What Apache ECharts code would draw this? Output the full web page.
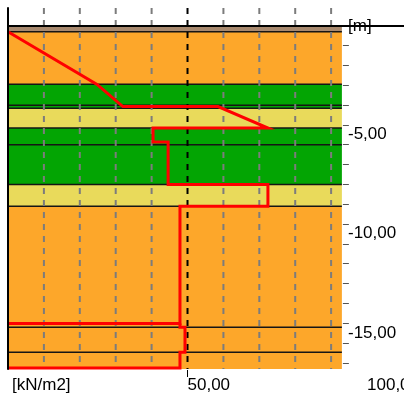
<!DOCTYPE html>
<html>
<head>
<meta charset="utf-8">
<script src="https://cdn.jsdelivr.net/npm/echarts@6/dist/echarts.min.js"></script>
<style>
  html, body { margin: 0; padding: 0; background: #ffffff; }
  #chart { width: 404px; height: 398px; }
</style>
</head>
<body>
<div id="chart"></div>
<script>
// Soil profile: top / bottom depth of each layer [m] and its soil type
const layerTop    = [0.0, -0.3, -2.95, -4.0, -4.15, -5.15, -6.0, -8.0, -9.1, -15.2, -16.45];
const layerBottom = [-0.3, -2.95, -4.0, -4.15, -5.15, -6.0, -8.0, -9.1, -15.2, -16.45, -17.3];
const layerSoil   = ['topsoil', 'sand', 'clay', 'clay', 'silt', 'clay', 'clay', 'silt', 'sand', 'sand', 'sand'];

// Earth pressure diagram outline: pressure [kN/m2] against depth [m]
const pressureUpper = [0.0, 24.8, 32.0, 58.5, 72.4, 40.4, 40.4, 44.6, 44.6, 72.4, 72.4, 47.9, 47.9, 0.0];
const depthUpper    = [-0.3, -2.95, -4.07, -4.07, -5.15, -5.15, -5.85, -5.85, -8.0, -8.0, -9.1, -9.1, -15.0, -15.0];
const pressureLower = [47.9, 47.9, 49.3, 49.3, 47.9, 47.9, 0.0];
const depthLower    = [-15.0, -15.2, -15.2, -16.45, -16.45, -17.25, -17.25];

// Axis ticks and labels
const gridPressures  = [10, 20, 30, 40, 50, 60, 70, 80, 90];
const pressureLabels = [0, 50, 100];
const pressureTicks  = [50];
const depthTicks     = [0, -1, -2, -3, -4, -5, -6, -7, -8, -9, -10, -11, -12, -13, -14, -15, -16, -17];
const depthLabels    = [0, -5, -10, -15];

// Axis extents
const DEPTH_MAX = 0.9;
const DEPTH_MIN = -17.3;
const PRESSURE_MAX = 110.3;
const PROFILE_WIDTH = 93.0;   // right edge of the soil column [kN/m2]

const SOIL_COLORS = {
  topsoil: '#a8896e',
  sand: '#fda72a',
  clay: '#03a503',
  silt: '#e9da5b'
};
const FONT = '"Liberation Sans", Arial, sans-serif';

const fmt = v => v.toFixed(2).replace('.', ',');
const crisp = y => Math.round(y - 0.5) + 0.5;

const chart = echarts.init(document.getElementById('chart'), null, { renderer: 'canvas' });

chart.setOption({
  animation: false,
  backgroundColor: '#ffffff',
  grid: { left: 8, right: 0, top: 8, bottom: 29, containLabel: false, outerBoundsMode: 'none' },
  xAxis: [
    {
      type: 'value', position: 'bottom', min: 0, max: PRESSURE_MAX,
      axisLine: { show: false },
      splitLine: { show: false },
      axisTick: { show: false },
      axisLabel: {
        show: true, customValues: pressureLabels, margin: 8, align: 'left', verticalAlign: 'top',
        color: '#000', fontFamily: FONT, fontSize: 17,
        formatter: v => v === 0 ? '{u|[kN/m2]}' : fmt(v),
        rich: { u: { padding: [0, 0, 0, 4], fontFamily: FONT, fontSize: 17, color: '#000' } }
      }
    },
    {
      type: 'value', position: 'top', min: 0, max: PRESSURE_MAX, z: 10,
      axisLine: { show: true, lineStyle: { color: '#000', width: 2 } },
      axisTick: { show: false }, axisLabel: { show: false }, splitLine: { show: false }
    }
  ],
  yAxis: [
    {
      type: 'value', position: 'right', offset: -62, min: DEPTH_MIN, max: DEPTH_MAX,
      axisLine: { show: false },
      splitLine: { show: false },
      axisTick: { show: false },
      axisLabel: {
        show: true, customValues: depthLabels, margin: 6, color: '#000', fontFamily: FONT, fontSize: 17,
        formatter: v => v === 0 ? '{m|[m]}' : '{n|' + fmt(v) + '}',
        rich: {
          m: { fontFamily: FONT, fontSize: 17, color: '#000' },
          n: { fontFamily: FONT, fontSize: 17, color: '#000', padding: [19, 0, 0, 0] }
        }
      }
    },
    {
      type: 'value', position: 'left', min: DEPTH_MIN, max: DEPTH_MAX, z: 10,
      axisLine: { show: true, lineStyle: { color: '#000', width: 2 } },
      axisTick: { show: false }, axisLabel: { show: false }, splitLine: { show: false }
    }
  ],
  series: [
    {
      // soil layers with their boundary lines
      type: 'custom', silent: true, z: 2,
      xAxisIndex: 0, yAxisIndex: 0,
      data: layerTop.map((t, i) => [0, t, layerBottom[i]]),
      renderItem: (params, api) => {
        const i = params.dataIndex;
        const tl = api.coord([0, api.value(1)]);
        const br = api.coord([PROFILE_WIDTH, api.value(2)]);
        return {
          type: 'group',
          children: [
            { type: 'rect', shape: { x: tl[0], y: tl[1], width: br[0] - tl[0], height: br[1] - tl[1] },
              style: { fill: SOIL_COLORS[layerSoil[i]] } },
            { type: 'line', shape: { x1: tl[0], y1: tl[1], x2: br[0], y2: tl[1] },
              style: { stroke: '#151515', lineWidth: 1.5 } }
          ]
        };
      }
    },
    {
      // vertical pressure grid lines
      type: 'custom', silent: true, z: 3,
      xAxisIndex: 0, yAxisIndex: 0,
      data: gridPressures.map(p => [p, 0]),
      renderItem: (params, api) => {
        const v = api.value(0);
        const a = api.coord([v, DEPTH_MAX]);
        const b = api.coord([v, DEPTH_MIN]);
        return {
          type: 'line', shape: { x1: a[0], y1: a[1], x2: b[0], y2: b[1] },
          style: { stroke: v === 50 ? '#000000' : '#7c7c7c', lineWidth: 2, lineDash: [6, 6] }
        };
      }
    },
    {
      // depth scale tick marks beside the soil column
      type: 'custom', silent: true, z: 3,
      xAxisIndex: 0, yAxisIndex: 0,
      data: depthTicks.map(d => [PROFILE_WIDTH, d]),
      renderItem: (params, api) => {
        const p = api.coord([api.value(0), api.value(1)]);
        const y = crisp(p[1]);
        return {
          type: 'line', shape: { x1: p[0] + 1, y1: y, x2: p[0] + 7, y2: y },
          style: { stroke: '#555555', lineWidth: 1 }
        };
      }
    },
    {
      // pressure scale tick marks below the soil column
      type: 'custom', silent: true, z: 3,
      xAxisIndex: 0, yAxisIndex: 0,
      data: pressureTicks.map(p => [p, DEPTH_MIN]),
      renderItem: (params, api) => {
        const p = api.coord([api.value(0), api.value(1)]);
        const x = crisp(p[0]);
        return {
          type: 'line', shape: { x1: x, y1: p[1] + 1, x2: x, y2: p[1] + 8 },
          style: { stroke: '#000000', lineWidth: 1 }
        };
      }
    },
    {
      type: 'line', silent: true, z: 4, clip: false,
      xAxisIndex: 0, yAxisIndex: 0, symbol: 'none',
      lineStyle: { color: '#ff0000', width: 3, join: 'miter' },
      data: pressureUpper.map((p, i) => [p, depthUpper[i]])
    },
    {
      type: 'line', silent: true, z: 4, clip: false,
      xAxisIndex: 0, yAxisIndex: 0, symbol: 'none',
      lineStyle: { color: '#ff0000', width: 3, join: 'miter' },
      data: pressureLower.map((p, i) => [p, depthLower[i]])
    }
  ]
});
</script>
</body>
</html>
